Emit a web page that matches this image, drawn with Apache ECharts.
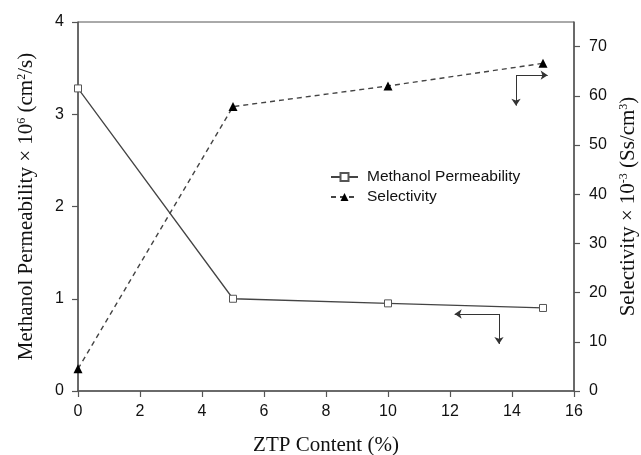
<!DOCTYPE html>
<html>
<head>
<meta charset="utf-8">
<script src="https://cdn.jsdelivr.net/npm/echarts@6/dist/echarts.min.js"></script>
<style>html,body{margin:0;padding:0;background:#fff}#c{width:641px;height:455px}</style>
</head>
<body>
<div id="c"></div>
<script>
// ZTP content (%)
const ztpContent = [0, 5, 10, 15];
// Methanol permeability x 10^6 (cm^2/s)
const permeability = [3.28, 1.0, 0.95, 0.90];
// Selectivity x 10^-3 (Ss/cm^3)
const selectivity = [4.5, 57.8, 62.0, 66.6];
// tick labels
const xTicks = [0, 2, 4, 6, 8, 10, 12, 14, 16];
const leftTicks = [0, 1, 2, 3, 4];
const rightTicks = [0, 10, 20, 30, 40, 50, 60, 70];
// annotation arrows (corner, horizontal end, vertical end) in data units
const permArrow = { corner: [13.58, 0.835], hEnd: 12.15, vEnd: 0.51 };
const selArrow = { corner: [14.13, 64.2], hEnd: 15.15, vEnd: 58.0 };

const chart = echarts.init(document.getElementById('c'));
const axisCol = '#555';
const txt = '#111';
const serif = '"Liberation Serif", "Times New Roman", serif';
const sans = '"Liberation Sans", Arial, sans-serif';

function arrowLines(a) {
  return {
    silent: true,
    symbol: ['none', 'arrow'],
    symbolSize: 7,
    label: { show: false },
    lineStyle: { type: 'solid', color: '#333', width: 1 },
    emphasis: { disabled: true },
    data: [
      [{ coord: a.corner }, { coord: [a.hEnd, a.corner[1]] }],
      [{ coord: a.corner }, { coord: [a.corner[0], a.vEnd] }]
    ]
  };
}

const supRich = {
  sup: { fontSize: 12, fontFamily: serif, color: txt, verticalAlign: 'top', lineHeight: 12, padding: [0, 0, 8, 0] }
};

chart.setOption({
  animation: false,
  backgroundColor: '#fff',
  grid: { left: 78, right: 67, top: 22, bottom: 64, show: true, borderColor: axisCol, borderWidth: 1, containLabel: false, outerBoundsMode: 'none' },
  legend: {
    orient: 'vertical',
    left: 325,
    top: 164,
    itemWidth: 27,
    itemHeight: 10,
    itemGap: 4,
    textStyle: { fontFamily: sans, fontSize: 15.5, color: txt, padding: [0, 0, 0, 4] },
    data: ['Methanol Permeability', 'Selectivity']
  },
  xAxis: {
    type: 'value',
    min: xTicks[0], max: xTicks[xTicks.length - 1], interval: 2,
    name: 'ZTP Content (%)',
    nameLocation: 'middle',
    nameGap: 44,
    nameTextStyle: { fontFamily: serif, fontSize: 21, color: txt },
    axisLine: { show: true, lineStyle: { color: axisCol, width: 1.5 } },
    axisTick: { show: true, inside: false, length: 6, lineStyle: { color: axisCol, width: 1.2 } },
    axisLabel: { fontFamily: sans, fontSize: 16, color: txt, margin: 13 },
    splitLine: { show: false }
  },
  yAxis: [
    {
      type: 'value',
      position: 'left',
      min: leftTicks[0], max: leftTicks[leftTicks.length - 1], interval: 1,
      name: 'Methanol Permeability × 10{sup|6} (cm{sup|2}/s)',
      nameLocation: 'middle',
      nameGap: 41,
      nameTextStyle: { fontFamily: serif, fontSize: 21, color: txt, rich: supRich },
      axisLine: { show: true, lineStyle: { color: axisCol, width: 1.5 } },
      axisTick: { show: true, inside: false, length: 6, lineStyle: { color: axisCol, width: 1.2 } },
      axisLabel: { fontFamily: sans, fontSize: 16, color: txt, margin: 14 },
      splitLine: { show: false }
    },
    {
      type: 'value',
      position: 'right',
      min: 0, max: 75,
      interval: 10,
      name: 'Selectivity × 10{sup|-3} (Ss/cm{sup|3})',
      nameLocation: 'middle',
      nameGap: 39,
      nameTextStyle: { fontFamily: serif, fontSize: 21, color: txt, rich: supRich },
      axisLine: { show: true, lineStyle: { color: axisCol, width: 1.5 } },
      axisTick: { show: true, inside: false, length: 6, customValues: rightTicks, lineStyle: { color: axisCol, width: 1.2 } },
      axisLabel: { fontFamily: sans, fontSize: 16, color: txt, margin: 15, customValues: rightTicks },
      splitLine: { show: false }
    }
  ],
  series: [
    {
      name: 'Methanol Permeability',
      type: 'line',
      yAxisIndex: 0,
      data: ztpContent.map((x, i) => [x, permeability[i]]),
      symbol: 'rect',
      symbolSize: 7,
      showAllSymbol: true,
      itemStyle: { color: '#fff', borderColor: '#555', borderWidth: 1 },
      lineStyle: { color: '#444', width: 1.3, type: 'solid' },
      markLine: arrowLines(permArrow),
      z: 3
    },
    {
      name: 'Selectivity',
      type: 'line',
      yAxisIndex: 1,
      data: ztpContent.map((x, i) => [x, selectivity[i]]),
      symbol: 'triangle',
      symbolSize: 9,
      showAllSymbol: true,
      itemStyle: { color: '#000', borderColor: '#000', borderWidth: 0 },
      lineStyle: { color: '#444', width: 1.4, type: [5, 4] },
      markLine: arrowLines(selArrow),
      z: 2
    }
  ]
});
</script>
</body>
</html>
